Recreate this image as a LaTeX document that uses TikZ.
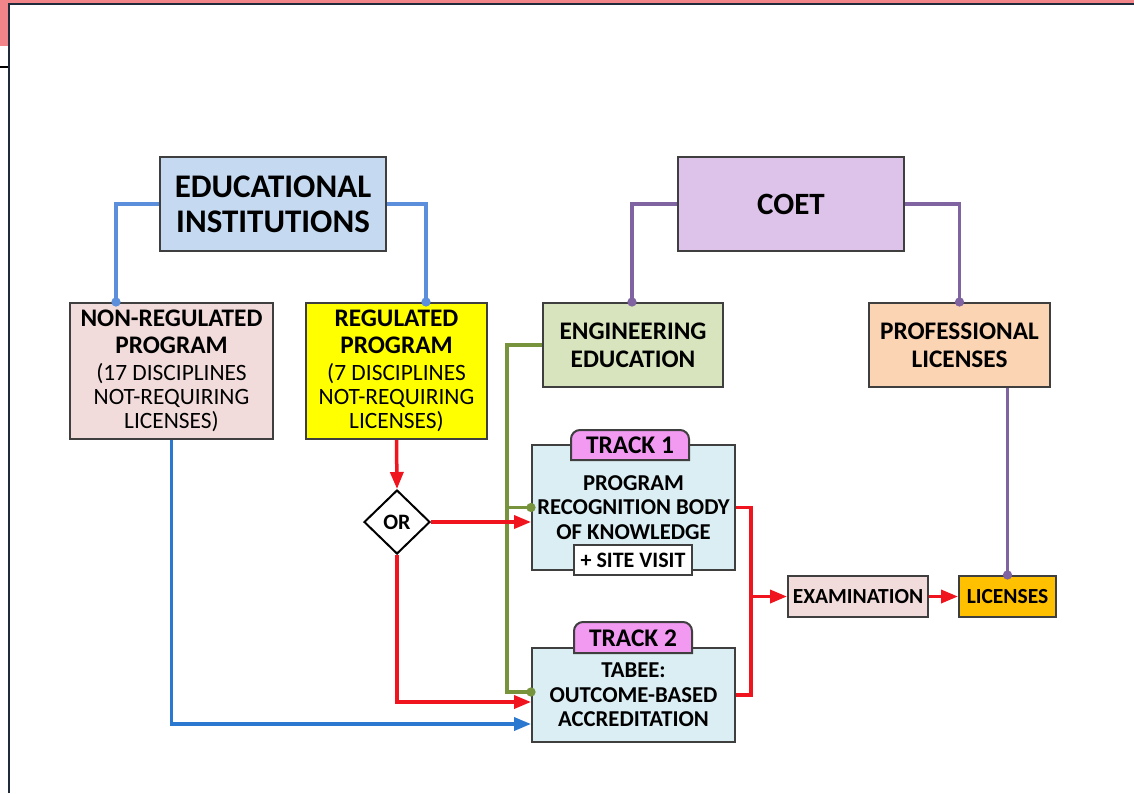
\documentclass[tikz,border=0pt]{standalone}
\usepackage{fontspec}
\setmainfont{Carlito}
\usetikzlibrary{arrows.meta,shapes.geometric,calc}
\definecolor{bordc}{HTML}{3F3F3F}
\definecolor{eifill}{HTML}{C5D9F0}
\definecolor{coetfill}{HTML}{DDC3EA}
\definecolor{pinkfill}{HTML}{F2DCDB}
\definecolor{yelfill}{HTML}{FFFF00}
\definecolor{engfill}{HTML}{D7E4BD}
\definecolor{proffill}{HTML}{FBD4B4}
\definecolor{trackfill}{HTML}{DBEEF4}
\definecolor{tabfill}{HTML}{F29AF2}
\definecolor{licfill}{HTML}{FFC000}
\definecolor{lblue}{HTML}{5B8FDB}
\definecolor{dblue}{HTML}{2A78D0}
\definecolor{purp}{HTML}{8064A2}
\definecolor{grn}{HTML}{77933C}
\definecolor{rred}{HTML}{F0141E}
\definecolor{framec}{HTML}{1F2A3A}
\definecolor{slidepink}{HTML}{F2858A}
\tikzset{
  box/.style={draw=bordc, line width=2pt, inner sep=0pt, align=center, text=black},
  bigtxt/.style={font=\fontsize{33}{35}\selectfont\bfseries},
  midtxt/.style={font=\fontsize{25.3}{28}\selectfont\bfseries},
  smltxt/.style={font=\fontsize{22.7}{24.5}\selectfont\bfseries},
  conn/.style={line width=3.5pt},
  dotend/.style={-{Circle[length=9pt,width=9pt]}, shorten >=-4.5pt},
  arr/.style={-{Triangle[length=17pt,width=13pt]}},
  tab/.style={draw=bordc, line width=2pt, fill=tabfill},
}
\newcommand{\bl}[1]{{\fontsize{25.3}{27}\selectfont\bfseries #1}}
\begin{document}
\begin{tikzpicture}[x=1pt,y=-1pt]
\useasboundingbox (0,0) rectangle (1134,793);
\fill[white] (0,0) rectangle (1134,793);
% slide frame artifacts
\fill[slidepink] (0,0) rectangle (1134,3);
\fill[slidepink] (0,0) rectangle (8,46);
\draw[framec, line width=2.5pt] (9,793) -- (9,4) -- (1134,4);
\draw[black, line width=1.5pt] (0,67) -- (8,67);

% nodes
\node[box, bigtxt, fill=eifill, minimum width=226pt, minimum height=94pt] (ei) at (273,204) {EDUCATIONAL\\INSTITUTIONS};
\node[box, font=\fontsize{31}{35}\selectfont\bfseries, fill=coetfill, minimum width=226pt, minimum height=94pt] (coet) at (791,204) {COET};
\node[box, font=\fontsize{23.4}{24}\selectfont, fill=pinkfill, minimum width=203pt, minimum height=136pt] (nonreg) at (171.5,371)
  {\bl{NON-REGULATED}\\[3pt]\bl{PROGRAM}\\[3pt](17 DISCIPLINES\\NOT-REQUIRING\\LICENSES)};
\node[box, font=\fontsize{23.4}{24}\selectfont, fill=yelfill, minimum width=181pt, minimum height=136pt] (reg) at (396.5,371)
  {\bl{REGULATED}\\[3pt]\bl{PROGRAM}\\[3pt](7 DISCIPLINES\\NOT-REQUIRING\\LICENSES)};
\node[box, midtxt, fill=engfill, minimum width=180pt, minimum height=84pt] (eng) at (633,345) {ENGINEERING\\EDUCATION};
\node[box, midtxt, fill=proffill, minimum width=181pt, minimum height=84pt] (prof) at (959.5,345) {PROFESSIONAL\\LICENSES};

\node[box, smltxt, fill=trackfill, minimum width=203pt, minimum height=125pt] (t1) at (633.5,507.5) {PROGRAM\\RECOGNITION BODY\\OF KNOWLEDGE};
\node[box, font=\fontsize{22}{24}\selectfont\bfseries, fill=white, minimum width=118pt, minimum height=30pt] (site) at (633,560) {+ SITE VISIT};
\node[box, smltxt, fill=trackfill, minimum width=203pt, minimum height=94pt] (t2) at (633.5,695) {TABEE:\\OUTCOME-BASED\\ACCREDITATION};

% tabs
\draw[tab] (571,460) -- (571,439) arc[start angle=180,end angle=270,radius=9] -- (680,430) arc[start angle=270,end angle=360,radius=9] -- (689,460) -- cycle;
\node[font=\fontsize{25.4}{26}\selectfont\bfseries] (tab1) at (630,445) {TRACK 1};
\draw[tab] (574,653) -- (574,631) arc[start angle=180,end angle=270,radius=9] -- (683,622) arc[start angle=270,end angle=360,radius=9] -- (692,653) -- cycle;
\node[font=\fontsize{25.4}{26}\selectfont\bfseries] (tab2) at (633,638) {TRACK 2};

\node[draw=black, line width=2pt, fill=white, diamond, inner sep=0pt, minimum width=66pt, minimum height=64pt, font=\fontsize{22}{24}\selectfont\bfseries] (or) at (397,522) {OR};

\node[box, font=\fontsize{21.5}{24}\selectfont\bfseries, fill=pinkfill, minimum width=140pt, minimum height=41pt] (exam) at (858,596.5) {EXAMINATION};
\node[box, font=\fontsize{21.5}{24}\selectfont\bfseries, fill=licfill, minimum width=97pt, minimum height=41pt] (lic) at (1007.5,596.5) {LICENSES};

% connectors: blue top
\draw[conn, lblue, dotend] (ei.west) -| ([xshift=-55.5pt]nonreg.north);
\draw[conn, lblue, dotend] (ei.east) -| ([xshift=29.5pt]reg.north);
% purple
\draw[conn, purp, dotend] (coet.west) -| ([xshift=-1pt]eng.north);
\draw[conn, purp, dotend] (coet.east) -| (prof.north);
\draw[conn, purp, dotend] (lic.north |- prof.south) -- (lic.north);
% green
\draw[conn, grn, dotend] (eng.west) -- ++(-35,0) |- ([yshift=3pt]t2.west);
\draw[conn, grn, dotend] ([xshift=-24.5pt]t1.west) -- (t1.west);
% red
\draw[conn, rred, arr] (reg.south) -- (or.north);
\draw[conn, rred, arr] (or.east) -- (t1.west |- or.east);
\draw[conn, rred, arr] (or.south) |- ([yshift=-7pt]t2.west);
\draw[conn, rred] (t1.east) -- ++(15,0) |- (t2.east);
\draw[conn, rred, arr] ($(exam.west -| t1.east)+(15,0)$) -- (exam.west);
\draw[conn, rred, arr] (exam.east) -- (lic.west);
% blue bottom
\draw[conn, dblue, arr] (nonreg.south) |- ([yshift=-29pt]t2.west);
\end{tikzpicture}
\end{document}
